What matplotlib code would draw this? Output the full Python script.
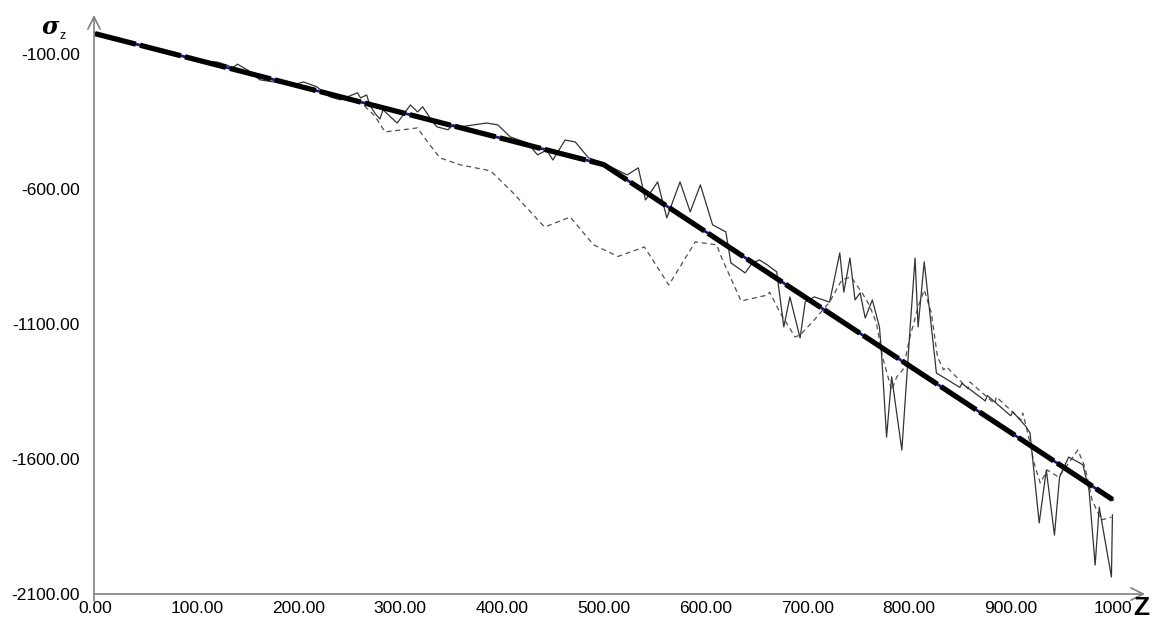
import numpy as np
import matplotlib
matplotlib.use('Agg')
import matplotlib.pyplot as plt

# trend line (thick)
trend_z = [0, 500, 1000]
trend_v = [-25, -510, -1750]

# solid noisy series
solid_z = [0, 20, 40, 60, 80, 100, 110, 120, 130, 135, 140, 150, 162, 195, 205, 218, 231,
           241, 258, 261, 267, 270, 275, 280, 283, 297, 310, 317, 322, 332, 336, 347, 352,
           359, 385, 396, 408, 425, 435, 444, 450, 462, 472, 485, 497, 509, 523, 534, 541,
           553, 562, 575, 585, 595, 607, 620, 625, 639, 646, 653, 661, 670, 677, 683, 693,
           698, 707, 722, 732, 736, 742, 747, 752, 757, 764, 771, 773, 778, 783, 793, 801,
           806, 809, 815, 827, 835, 850, 852, 875, 877, 900, 902, 915, 919, 928, 935, 943,
           948, 957, 966, 971, 977, 983, 987, 999, 1000]
solid_v = [-25, -45, -62, -84, -103, -120, -128, -130, -142, -152, -138, -160, -196, -215,
           -204, -222, -259, -270, -244, -263, -252, -289, -319, -341, -307, -356, -289, -315,
           -296, -352, -370, -381, -363, -370, -356, -363, -407, -430, -474, -456, -493, -419,
           -426, -485, -500, -522, -548, -522, -641, -574, -707, -574, -685, -585, -733, -759,
           -874, -911, -874, -863, -882, -907, -1111, -1000, -1152, -1019, -1000, -1019, -837,
           -982, -856, -1011, -985, -1078, -1011, -1111, -1207, -1519, -1296, -1567, -1122,
           -856, -1111, -870, -1282, -1300, -1335, -1320, -1385, -1365, -1440, -1425, -1480,
           -1504, -1837, -1641, -1882, -1667, -1593, -1611, -1622, -1715, -1993, -1778, -2037,
           -1807]

# dashed series
dash_z = [0, 50, 100, 140, 160, 200, 240, 260, 275, 285, 317, 323, 339, 359, 385, 391, 411,
          438, 442, 467, 490, 514, 540, 564, 590, 611, 616, 635, 661, 663, 673, 688, 693,
          707, 722, 734, 743, 754, 761, 768, 774, 783, 788, 794, 801, 809, 815, 822, 828,
          834, 837, 858, 860, 884, 886, 910, 912, 919, 923, 929, 936, 947, 957, 966, 973,
          980, 989, 999]
dash_v = [-25, -73, -122, -155, -180, -215, -262, -275, -330, -389, -374, -407, -485, -511,
          -530, -541, -615, -726, -741, -704, -807, -850, -815, -956, -796, -807, -856, -1015,
          -993, -982, -1056, -1148, -1141, -1085, -1019, -937, -926, -985, -1030, -1096,
          -1222, -1345, -1296, -1270, -1148, -1037, -974, -1059, -1222, -1270, -1259, -1340,
          -1315, -1395, -1370, -1455, -1430, -1541, -1615, -1689, -1641, -1667, -1615, -1567,
          -1630, -1752, -1826, -1815]

y_ticks = [-100, -600, -1100, -1600, -2100]
x_ticks = [0, 100, 200, 300, 400, 500, 600, 700, 800, 900, 1000]
x_labels = ['0.00', '100.00', '200.00', '300.00', '400.00', '500.00', '600.00',
            '700.00', '800.00', '900.00', '1000']

W, H = 1152, 628
fig = plt.figure(figsize=(W / 100, H / 100), dpi=100)
ax = fig.add_axes([94 / W, (H - 594) / H, (1145 - 94) / W, (594 - 15) / H])
ax.set_xlim(-1, 1032)
ax.set_ylim(-2100, 44)

ax.plot(dash_z, dash_v, color='#505050', lw=0.9, dashes=(4, 3))
ax.plot(solid_z, solid_v, color='#333333', lw=0.9)
ax.plot(trend_z, trend_v, color='#1a1a80', lw=2.0)
ax.plot(trend_z, trend_v, color='black', lw=3.8, dashes=(8, 0.8))

for s in ['top', 'right', 'bottom', 'left']:
    ax.spines[s].set_visible(False)

axis_color = '#808080'
# axes drawn as arrows
ax.annotate('', xy=(0, 1), xycoords='axes fraction', xytext=(0, -0.012),
            arrowprops=dict(arrowstyle='->', color=axis_color, lw=1.2,
                            mutation_scale=22, shrinkA=0, shrinkB=0))
ax.annotate('', xy=(1, 0), xycoords='axes fraction', xytext=(0, 0),
            arrowprops=dict(arrowstyle='->', color=axis_color, lw=1.2,
                            mutation_scale=22, shrinkA=0, shrinkB=0))

ax.set_yticks(y_ticks)
ax.set_yticklabels(['%.2f' % v for v in y_ticks])
ax.set_xticks(x_ticks)
ax.set_xticklabels(x_labels)
ax.tick_params(axis='both', length=0, labelsize=12.5, colors='black')
ax.tick_params(axis='y', pad=10)
ax.tick_params(axis='x', pad=5)
for lab in ax.get_xticklabels() + ax.get_yticklabels():
    lab.set_fontfamily('Liberation Sans')

fig.text(50 / W, 1 - 27 / H, '\u03c3', fontsize=17, fontstyle='italic',
         fontweight='bold', family='DejaVu Serif', ha='center', va='center')
fig.text(63 / W, 1 - 36 / H, 'z', fontsize=9, family='Liberation Sans',
         ha='center', va='center')
fig.text(1141 / W, 1 - 608 / H, 'Z', fontsize=19, fontweight='bold',
         family='Liberation Sans', ha='center', va='center')

fig.savefig('out.png', dpi=100, facecolor='white')
